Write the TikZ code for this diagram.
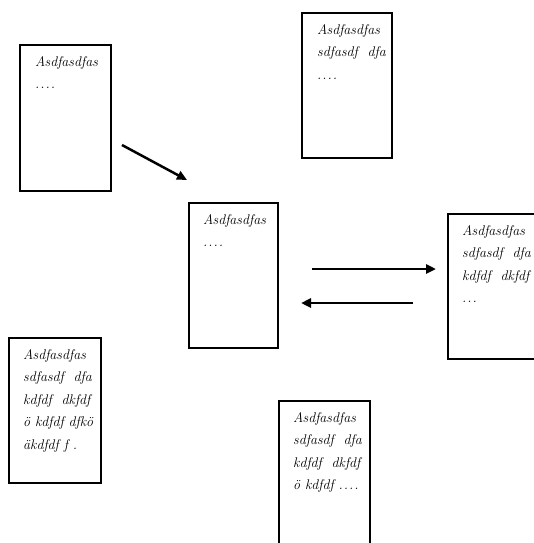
\documentclass[tikz,border=0pt]{standalone}
\usetikzlibrary{arrows.meta}
\tikzset{
  card/.style={draw, line width=1.6pt, anchor=north west, inner sep=0pt},
  cardtext/.style={anchor=north west, inner sep=0pt, align=left,
    font=\fontsize{14}{22.5}\selectfont\itshape},
  flow/.style={line width=2.5pt, -{Triangle[length=10pt,width=9pt]}}
}
\newcommand\fourdots{.\kern1pt.\kern1pt.\kern1pt.}
\begin{document}
\begin{tikzpicture}[x=1pt,y=-1pt]
\useasboundingbox (0,0) rectangle (533,543);
% boxes
\node[card, minimum width=91pt, minimum height=146pt] (b1) at (19,44) {};
\node[card, minimum width=90pt, minimum height=145pt] (b2) at (301,12) {};
\node[card, minimum width=89pt, minimum height=145pt] (b3) at (188,202) {};
\node[card, minimum width=100pt, minimum height=145pt] (b4) at (447,213) {};
\node[card, minimum width=92pt, minimum height=145pt] (b5) at (8,337) {};
\node[card, minimum width=91pt, minimum height=160pt] (b6) at (278,400) {};
% texts
\node[cardtext] (t1) at ([shift={(16pt,-12pt)}]b1.north west) {Asdfasdfas\\\fourdots};
\node[cardtext] (t2) at ([shift={(16pt,-12pt)}]b2.north west) {Asdfasdfas\\sdfasdf\ \ dfa\\\fourdots};
\node[cardtext] (t3) at ([shift={(15pt,-12pt)}]b3.north west) {Asdfasdfas\\\fourdots};
\node[cardtext] (t4) at ([shift={(15pt,-12pt)}]b4.north west) {Asdfasdfas\\sdfasdf\ \ dfa\\kdfdf\ \ dkfdf\\.\kern1pt.\kern1pt.};
\node[cardtext] (t5) at ([shift={(15pt,-12pt)}]b5.north west) {Asdfasdfas\\sdfasdf\ \ dfa\\kdfdf\ \ dkfdf\\ö kdfdf dfkö\\äkdfdf f .};
\node[cardtext] (t6) at ([shift={(15pt,-12pt)}]b6.north west) {Asdfasdfas\\sdfasdf\ \ dfa\\kdfdf\ \ dkfdf\\ö kdfdf \fourdots};
% arrows
\coordinate (a1s) at (122,145);
\coordinate (a1e) at (187,180);
\coordinate (a2s) at (312,269);
\coordinate (a2e) at (436,269);
\coordinate (a3s) at (413,303);
\coordinate (a3e) at (301,303);
\draw[flow] (a1s) -- (a1e);
\draw[flow] (a2s) -- (a2e);
\draw[flow] (a3s) -- (a3e);
\end{tikzpicture}
\end{document}
